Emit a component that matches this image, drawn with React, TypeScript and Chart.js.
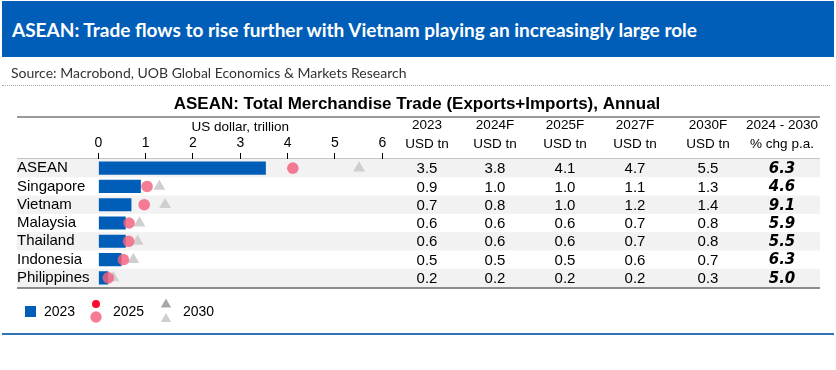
import React, { useEffect, useRef } from 'react';
import { Chart, registerables } from 'chart.js';

Chart.register(...registerables);

// ---- data ----
const categories = ['ASEAN', 'Singapore', 'Vietnam', 'Malaysia', 'Thailand', 'Indonesia', 'Philippines'];
// plotted marks (US dollar, trillion)
const bar2023 = [3.54, 0.9, 0.7, 0.58, 0.58, 0.49, 0.21];
const dot2025 = [4.11, 1.03, 0.97, 0.65, 0.64, 0.53, 0.21];
const tri2030 = [5.51, 1.29, 1.41, 0.87, 0.83, 0.74, 0.32];
// table values
const tbl2023 = ['3.5', '0.9', '0.7', '0.6', '0.6', '0.5', '0.2'];
const tbl2024F = ['3.8', '1.0', '0.8', '0.6', '0.6', '0.5', '0.2'];
const tbl2025F = ['4.1', '1.0', '1.0', '0.6', '0.6', '0.5', '0.2'];
const tbl2027F = ['4.7', '1.1', '1.2', '0.7', '0.7', '0.6', '0.2'];
const tbl2030F = ['5.5', '1.3', '1.4', '0.8', '0.8', '0.7', '0.3'];
const tblChg = ['6.3', '4.6', '9.1', '5.9', '5.5', '6.3', '5.0'];
const tableHeads1 = ['2023', '2024F', '2025F', '2027F', '2030F', '2024 - 2030'];
const tableHeads2 = ['USD tn', 'USD tn', 'USD tn', 'USD tn', 'USD tn', '% chg p.a.'];
const xTicksMax = 6;

const FONT = '"Liberation Sans", Arial, sans-serif';
const BLUE = '#005EB8';
const PINK = 'rgba(243,95,125,0.82)';
const TRI = '#cfcfcf';

export default function App() {
  const ref = useRef<HTMLCanvasElement>(null);

  useEffect(() => {
    const canvas = ref.current!;
    const tableCols = [tbl2023, tbl2024F, tbl2025F, tbl2027F, tbl2030F, tblChg];
    const colX = [427, 495, 565, 635, 708, 782];
    const tableLeft = 17;
    const tableRight = 820;

    const decor = {
      id: 'decor',
      beforeDraw(chart: any) {
        const c = chart.ctx;
        const ys = chart.scales.y;
        const area = chart.chartArea;
        const band = (area.bottom - area.top) / categories.length;
        c.save();
        c.fillStyle = '#f2f2f2';
        categories.forEach((_, i) => {
          if (i % 2 === 0) {
            const y = ys.getPixelForValue(i);
            c.fillRect(tableLeft, y - band / 2, tableRight - tableLeft, band);
          }
        });
        // lines
        c.fillStyle = '#9a9a9a';
        c.fillRect(tableLeft, 116, tableRight - tableLeft, 2);
        c.fillStyle = '#c4c4c4';
        c.fillRect(tableLeft, area.top - 1, tableRight - tableLeft, 1);
        c.fillStyle = '#8c8c8c';
        c.fillRect(tableLeft, area.bottom, tableRight - tableLeft, 2);
        // chart title
        c.fillStyle = '#000';
        c.font = `bold 17px ${FONT}`;
        c.textAlign = 'center';
        c.textBaseline = 'middle';
        c.fillText('ASEAN: Total Merchandise Trade (Exports+Imports), Annual', 417, 104);
        c.restore();
      },
      afterDraw(chart: any) {
        const c = chart.ctx;
        const ys = chart.scales.y;
        c.save();
        c.fillStyle = '#000';
        c.textAlign = 'center';
        c.textBaseline = 'middle';
        c.font = `13.5px ${FONT}`;
        tableHeads1.forEach((t, j) => c.fillText(t, colX[j], 125));
        tableHeads2.forEach((t, j) => c.fillText(t, colX[j], 144));
        tableCols.forEach((col, j) => {
          c.font = j === tableCols.length - 1 ? `italic bold 15px "DejaVu Sans", ${FONT}` : `15px ${FONT}`;
          col.forEach((v, i) => {
            c.fillText(v, colX[j], ys.getPixelForValue(i) + 1);
          });
        });
        // legend
        const ly = 311;
        const ds = chart.data.datasets;
        c.textAlign = 'left';
        c.font = `14px ${FONT}`;
        c.fillStyle = ds[0].backgroundColor;
        c.fillRect(25, 306, 11, 11);
        c.fillStyle = '#000';
        c.fillText(ds[0].label, 44, ly + 1);
        // 2025
        c.fillStyle = '#ff0a2a';
        c.beginPath(); c.arc(96, 304, 4, 0, Math.PI * 2); c.fill();
        c.fillStyle = ds[1].pointBackgroundColor;
        c.beginPath(); c.arc(96, 317, 5.7, 0, Math.PI * 2); c.fill();
        c.fillStyle = '#000';
        c.fillText(ds[1].label, 113, ly + 1);
        // 2030
        const tri = (cx: number, cy: number, r: number, col: string) => {
          c.fillStyle = col;
          c.beginPath();
          c.moveTo(cx, cy - r);
          c.lineTo(cx + r * 0.866, cy + r * 0.5);
          c.lineTo(cx - r * 0.866, cy + r * 0.5);
          c.closePath();
          c.fill();
        };
        tri(166, 304.5, 6, '#a8a8a8');
        tri(166, 319, 6, ds[2].pointBackgroundColor);
        c.fillStyle = '#000';
        c.fillText(ds[2].label, 183, ly + 1);
        c.restore();
      },
    };

    const chart = new Chart(canvas, {
      type: 'bar',
      data: {
        labels: categories,
        datasets: [
          {
            type: 'bar',
            label: '2023',
            data: bar2023,
            backgroundColor: BLUE,
            barPercentage: 0.72,
            categoryPercentage: 1,
            indexAxis: 'y',
            order: 3,
          } as any,
          {
            type: 'line',
            label: '2025',
            data: dot2025,
            showLine: false,
            indexAxis: 'y',
            pointStyle: 'circle',
            pointRadius: 5.8,
            pointBackgroundColor: PINK,
            pointBorderWidth: 0,
            borderColor: 'transparent',
            order: 1,
          } as any,
          {
            type: 'line',
            label: '2030',
            data: tri2030,
            showLine: false,
            indexAxis: 'y',
            pointStyle: 'triangle',
            pointRadius: 6.8,
            pointBackgroundColor: TRI,
            pointBorderWidth: 0,
            borderColor: 'transparent',
            order: 2,
          } as any,
        ],
      },
      options: {
        indexAxis: 'y',
        responsive: false,
        animation: false,
        layout: { padding: { top: 117, left: 17, right: 453.7, bottom: 83 } },
        plugins: {
          legend: { display: false },
          tooltip: { enabled: false },
          title: { display: false },
        },
        scales: {
          x: {
            type: 'linear',
            position: 'top',
            min: 0,
            max: xTicksMax,
            ticks: { stepSize: 1, color: '#000', font: { family: FONT, size: 14 }, padding: 1 },
            grid: { drawOnChartArea: false, drawTicks: true, tickLength: 6, color: '#000' },
            border: { display: false },
            title: {
              display: true,
              text: 'US dollar, trillion',
              color: '#000',
              font: { family: FONT, size: 13.5 },
              padding: { top: 2, bottom: 0 },
            },
            afterFit: (s: any) => {
              s.height = 42;
            },
          },
          y: {
            type: 'category',
            offset: true,
            grid: { display: false },
            border: { display: false },
            ticks: {
              autoSkip: false,
              crossAlign: 'far',
              color: '#000',
              font: { family: FONT, size: 15 },
              padding: 0,
            },
            afterFit: (s: any) => {
              s.width = 81.3;
            },
          },
        },
      } as any,
      plugins: [decor],
    });
    return () => chart.destroy();
  }, []);

  return (
    <div style={{ position: 'absolute', left: 0, top: 0, width: 836, height: 370, background: '#fff', overflow: 'hidden' }}>
      <canvas ref={ref} width={836} height={370} style={{ position: 'absolute', left: 0, top: 0, width: 836, height: 370 }} />
      <div
        style={{
          position: 'absolute',
          left: 2,
          top: 1,
          width: 832,
          height: 56,
          background: BLUE,
          color: '#fff',
          fontFamily: 'Lato, "Noto Sans", sans-serif',
          fontWeight: 700,
          fontSize: 19,
          lineHeight: '58px',
          paddingLeft: 10,
          boxSizing: 'border-box',
          whiteSpace: 'nowrap',
        }}
      >
        ASEAN: Trade flows to rise further with Vietnam playing an increasingly large role
      </div>
      <div
        style={{
          position: 'absolute',
          left: 11,
          top: 64,
          fontFamily: 'Lato, "Noto Sans", sans-serif',
          fontSize: 14,
          color: '#333',
          whiteSpace: 'nowrap',
          lineHeight: '18px',
        }}
      >
        Source: Macrobond, UOB Global Economics &amp; Markets Research
      </div>
      <div style={{ position: 'absolute', left: 2, top: 85, width: 828, borderTop: '1px dotted #aaa' }} />
      <div style={{ position: 'absolute', left: 2, top: 333, width: 832, height: 2, background: '#2E75B6' }} />
    </div>
  );
}
